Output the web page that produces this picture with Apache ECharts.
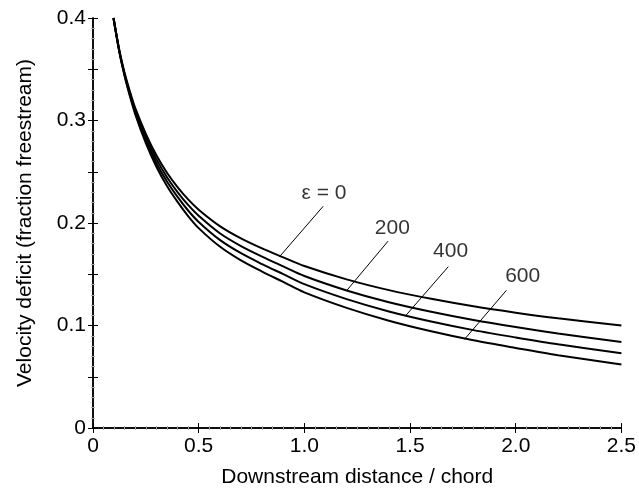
<!DOCTYPE html>
<html>
<head>
<meta charset="utf-8">
<script src="https://cdn.jsdelivr.net/npm/echarts@6/dist/echarts.min.js"></script>
<style>
html,body{margin:0;padding:0;background:#fff;}
#chart{width:639px;height:493px;}
</style>
</head>
<body>
<div id="chart"></div>
<script>
// ---- data ----
var xValues  = [0.097, 0.125, 0.15, 0.175, 0.2, 0.25, 0.3, 0.35, 0.4, 0.45, 0.5, 0.6, 0.7, 0.8, 0.9, 1.0, 1.2, 1.4, 1.6, 1.8, 2.0, 2.2, 2.5];
var eps0     = [0.400, 0.368, 0.346, 0.328, 0.312, 0.287, 0.266, 0.249, 0.235, 0.223, 0.213, 0.197, 0.185, 0.1752, 0.1665, 0.158, 0.145, 0.1345, 0.126, 0.1187, 0.1125, 0.107, 0.100];
var eps200   = [0.400, 0.3675, 0.345, 0.3265, 0.310, 0.284, 0.2623, 0.2447, 0.2302, 0.2176, 0.207, 0.190, 0.1775, 0.1672, 0.1577, 0.1483, 0.1342, 0.1227, 0.1134, 0.1054, 0.0985, 0.0922, 0.084];
var eps400   = [0.400, 0.367, 0.344, 0.325, 0.308, 0.281, 0.2586, 0.2404, 0.2254, 0.2122, 0.201, 0.1835, 0.1705, 0.1599, 0.1501, 0.1403, 0.1257, 0.1137, 0.1039, 0.0955, 0.0883, 0.0816, 0.073];
var eps600   = [0.400, 0.3665, 0.343, 0.3235, 0.306, 0.278, 0.2549, 0.2361, 0.2206, 0.2068, 0.195, 0.177, 0.1635, 0.1526, 0.1425, 0.1323, 0.1172, 0.1047, 0.0944, 0.0856, 0.0781, 0.071, 0.062];

var xTickLabels = ['0', '0.5', '1.0', '1.5', '2.0', '2.5'];
var yTickLabels = ['0', '0.1', '0.2', '0.3', '0.4'];

var curveLabels   = ['\u03b5 = 0', '200', '400', '600'];
var labelAnchors  = [[1.093, 0.2287], [1.416, 0.1946], [1.692, 0.1723], [2.033, 0.1479]];
var leaderStarts  = [[0.882, 0.1670], [1.200, 0.1340], [1.481, 0.1100], [1.758, 0.0866]];
var leaderEnds    = [[1.089, 0.2163], [1.396, 0.1823], [1.681, 0.1574], [1.956, 0.1343]];

var xAxisTitle = 'Downstream distance / chord';
var yAxisTitle = 'Velocity deficit (fraction freestream)';

// ---- build ----
function pairs(ys){ return xValues.map(function(x,i){ return [x, ys[i]]; }); }
var FONT = 'Liberation Sans';
var FS = 21;
var seriesData = [eps0, eps200, eps400, eps600];

var series = seriesData.map(function(ys){
  return {
    type: 'line', xAxisIndex: 0, yAxisIndex: 0,
    data: pairs(ys), smooth: 0.3, showSymbol: false, symbol: 'none',
    lineStyle: {color: '#000', width: 2}, silent: true, z: 3
  };
});
leaderStarts.forEach(function(s, i){
  series.push({
    type: 'line', xAxisIndex: 0, yAxisIndex: 0,
    data: [s, leaderEnds[i]], showSymbol: false, symbol: 'none',
    lineStyle: {color: '#000', width: 1}, silent: true, z: 3
  });
});
series.push({
  type: 'scatter', xAxisIndex: 0, yAxisIndex: 0, symbolSize: 0,
  data: labelAnchors.map(function(p, i){ return {value: p, name: curveLabels[i]}; }),
  label: {show: true, position: 'inside', formatter: '{b}', color: '#000',
          fontFamily: FONT, fontSize: FS},
  silent: true, z: 4
});

function yFmt(v){
  var k = Math.round(v * 10);
  if (Math.abs(v * 10 - k) > 1e-6) return '';
  return yTickLabels[k] || '';
}
function xFmt(v){
  var k = Math.round(v / 0.5);
  if (Math.abs(v / 0.5 - k) > 1e-6) return '';
  return xTickLabels[k] || '';
}

var axisLineStyle = {show: true, lineStyle: {color: '#000', width: 1.5}};
var majorTick = {show: true, inside: true, length: 5, lineStyle: {color: '#000', width: 1}};
var option = {
  animation: false,
  backgroundColor: '#fff',
  grid: {left: 93, right: 11, top: 18, bottom: 64, containLabel: false},
  xAxis: [{
    type: 'value', min: 0, max: 2.5, interval: 0.5, position: 'bottom',
    name: xAxisTitle, nameLocation: 'middle', nameGap: 39,
    nameTextStyle: {color: '#000', fontFamily: FONT, fontSize: FS},
    axisLine: axisLineStyle, axisTick: majorTick,
    minorTick: {show: true, splitNumber: 10, length: 2, lineStyle: {color: '#aaa', width: 1}},
    axisLabel: {color: '#000', fontFamily: FONT, fontSize: FS, margin: 8, formatter: xFmt},
    splitLine: {show: false}
  }, {
    type: 'value', min: 0, max: 2.5, interval: 0.5, position: 'top',
    axisLine: axisLineStyle, axisTick: majorTick,
    minorTick: {show: true, splitNumber: 10, length: 2, lineStyle: {color: '#aaa', width: 1}},
    axisLabel: {show: false}, splitLine: {show: false}
  }],
  yAxis: [{
    type: 'value', min: 0, max: 0.4, interval: 0.05, position: 'left',
    name: yAxisTitle, nameLocation: 'middle', nameGap: 57, nameRotate: 90,
    nameTextStyle: {color: '#000', fontFamily: FONT, fontSize: FS},
    axisLine: axisLineStyle, axisTick: majorTick,
    minorTick: {show: true, splitNumber: 5, length: 2, lineStyle: {color: '#aaa', width: 1}},
    axisLabel: {color: '#000', fontFamily: FONT, fontSize: FS, margin: 7, formatter: yFmt, showMinLabel: true, showMaxLabel: true},
    splitLine: {show: false}
  }, {
    type: 'value', min: 0, max: 0.4, interval: 0.05, position: 'right',
    axisLine: axisLineStyle, axisTick: majorTick,
    minorTick: {show: true, splitNumber: 5, length: 2, lineStyle: {color: '#aaa', width: 1}},
    axisLabel: {show: false}, splitLine: {show: false}
  }],
  series: series
};
var chart = echarts.init(document.getElementById('chart'), null, {renderer: 'canvas'});
chart.setOption(option);
</script>
</body>
</html>
